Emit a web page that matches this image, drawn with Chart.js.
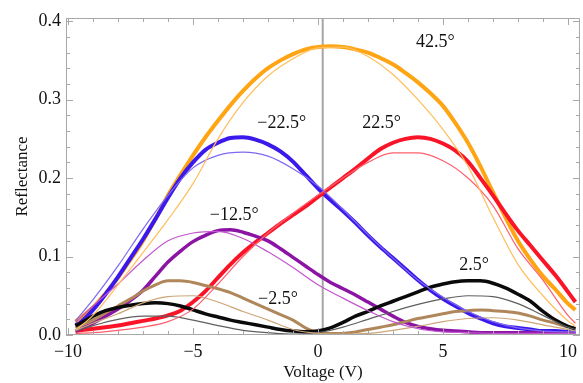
<!DOCTYPE html>
<html>
<head>
<meta charset="utf-8">
<script src="https://cdn.jsdelivr.net/npm/chart.js@4.4.0/dist/chart.umd.min.js"></script>
<style>
  html, body { margin: 0; padding: 0; background: #fff; }
  #wrap { width: 583px; height: 383px; }
</style>
</head>
<body>
<div id="wrap"><canvas id="myChart" width="583" height="383"></canvas></div>
<script>
// measured points (dots), voltage grid
const volts = [-9.7,-9.5,-9,-8.5,-8,-7.5,-7,-6.5,-6,-5.5,-5,-4.5,-4,-3.5,-3,-2.5,-2,-1.5,-1,-0.5,0,0.5,1,1.5,2,2.5,3,3.5,4,4.5,5,5.5,6,6.5,7,7.5,8,8.5,9,9.5,10,10.3];
const meas42 = [0.017,0.022,0.035,0.053,0.073,0.096,0.12,0.148,0.178,0.204,0.229,0.252,0.273,0.293,0.311,0.327,0.34,0.35,0.358,0.364,0.367,0.368,0.367,0.364,0.36,0.353,0.345,0.334,0.322,0.308,0.292,0.27,0.245,0.215,0.182,0.15,0.12,0.096,0.075,0.058,0.04,0.032];
const measM22 = [0.012,0.016,0.032,0.052,0.074,0.098,0.122,0.148,0.175,0.2,0.22,0.236,0.245,0.251,0.252,0.249,0.243,0.234,0.221,0.204,0.187,0.172,0.158,0.143,0.127,0.112,0.098,0.084,0.07,0.057,0.046,0.037,0.028,0.021,0.015,0.011,0.009,0.007,0.005,0.005,0.004,0.004];
const meas22 = [0.005,0.006,0.008,0.01,0.012,0.015,0.018,0.021,0.025,0.031,0.042,0.056,0.073,0.09,0.105,0.118,0.13,0.142,0.153,0.164,0.176,0.188,0.2,0.212,0.225,0.237,0.245,0.25,0.252,0.25,0.244,0.235,0.221,0.2,0.178,0.155,0.133,0.114,0.095,0.076,0.055,0.042];
const measM12 = [0.005,0.008,0.015,0.024,0.033,0.044,0.057,0.075,0.093,0.107,0.119,0.127,0.133,0.134,0.131,0.126,0.12,0.11,0.099,0.088,0.077,0.067,0.059,0.051,0.042,0.033,0.024,0.016,0.011,0.008,0.006,0.005,0.004,0.003,0.003,0.003,0.003,0.003,0.003,0.003,0.003,0.003];
const measM2 = [0.009,0.012,0.019,0.028,0.037,0.046,0.056,0.064,0.069,0.069,0.067,0.063,0.059,0.054,0.047,0.04,0.033,0.026,0.019,0.009,0.003,0.002,0.002,0.004,0.007,0.01,0.013,0.017,0.021,0.024,0.027,0.03,0.031,0.032,0.031,0.03,0.028,0.024,0.019,0.015,0.01,0.008];
const meas2 = [0.012,0.015,0.024,0.031,0.035,0.038,0.04,0.041,0.04,0.037,0.032,0.027,0.023,0.019,0.016,0.013,0.01,0.007,0.005,0.004,0.005,0.009,0.016,0.024,0.03,0.037,0.043,0.049,0.055,0.061,0.065,0.068,0.069,0.069,0.066,0.06,0.052,0.043,0.03,0.019,0.011,0.008];

// fitted curves
const fitVolts = [-9.7,-9,-8,-7,-6,-5,-4,-3,-2,-1,0,1,2,3,4,5,6,7,8,9,10,10.3];
const fit42 = [0.006,0.025,0.064,0.105,0.147,0.193,0.25,0.296,0.33,0.352,0.366,0.367,0.355,0.332,0.3,0.262,0.215,0.15,0.09,0.05,0.018,0.011];
const fitM22 = [0.018,0.045,0.088,0.135,0.178,0.213,0.229,0.233,0.228,0.212,0.19,0.16,0.128,0.098,0.07,0.048,0.03,0.017,0.009,0.005,0.004,0.004];
const fit22 = [0.002,0.003,0.006,0.01,0.017,0.033,0.065,0.1,0.13,0.155,0.178,0.2,0.22,0.232,0.232,0.222,0.2,0.165,0.11,0.07,0.025,0.015];
const fitM12 = [0.016,0.037,0.065,0.095,0.12,0.13,0.132,0.123,0.106,0.086,0.064,0.047,0.031,0.017,0.008,0.004,0.003,0.002,0.002,0.002,0.002,0.002];
const fitM2 = [0.006,0.015,0.027,0.041,0.049,0.05,0.042,0.03,0.019,0.007,0.002,0.001,0.002,0.006,0.011,0.017,0.021,0.022,0.019,0.013,0.007,0.005];
const fit2 = [0.005,0.012,0.02,0.024,0.024,0.019,0.012,0.006,0.003,0.001,0.003,0.01,0.02,0.03,0.039,0.046,0.05,0.049,0.04,0.025,0.01,0.007];

// zero-voltage marker line
const zeroX = 0.19;

// angle labels
const angleText = ['42.5°','−22.5°','22.5°','−12.5°','−2.5°','2.5°'];
const angleX = [4.7,-1.45,2.55,-3.35,-1.6,6.25];
const angleY = [0.373,0.27,0.27,0.153,0.046,0.089];

const xTicks = [-10,-5,0,5,10];
const xTickLabels = ['−10','−5','0','5','10'];
const yTicks = [0,0.1,0.2,0.3,0.4];
const yTickLabels = ['0.0','0.1','0.2','0.3','0.4'];

const serif = "'Liberation Serif', 'Times New Roman', serif";

function pts(xs, ys){ return xs.map((x,i)=>({x:x, y:ys[i]})); }

function fitSet(ys, color){
  return { data: pts(fitVolts, ys), borderColor: color, borderWidth: 1.2, pointRadius: 0,
           cubicInterpolationMode: 'monotone', fill: false };
}
function measSet(ys, color, w){
  return { data: pts(volts, ys), borderColor: color, borderWidth: w, pointRadius: 0,
           cubicInterpolationMode: 'monotone', fill: false };
}

const framePlugin = {
  id: 'frame',
  afterDatasetsDraw(chart){
    const c = chart.ctx;
    const xs = chart.scales.x, ys = chart.scales.y;
    c.save();
    c.font = "18px " + serif;
    c.fillStyle = '#111';
    c.textAlign = 'center';
    c.textBaseline = 'middle';
    angleText.forEach((t,i)=>{
      c.fillText(t, xs.getPixelForValue(angleX[i]), ys.getPixelForValue(angleY[i]));
    });
    c.restore();
  },
  afterDraw(chart){
    const c = chart.ctx, a = chart.chartArea;
    const xs = chart.scales.x, ys = chart.scales.y;
    c.save();
    c.strokeStyle = '#a8a8a8';
    c.lineWidth = 1;
    c.strokeRect(a.left+0.5, a.top+0.5, a.right-a.left-1, a.bottom-a.top-1);
    c.beginPath();
    for (let v=-10; v<=10; v++){
      const px = Math.round(xs.getPixelForValue(v))+0.5;
      const len = (v%5===0) ? 7 : 4;
      c.moveTo(px, a.bottom); c.lineTo(px, a.bottom-len);
      c.moveTo(px, a.top); c.lineTo(px, a.top+len);
    }
    for (let k=0; k<=20; k++){
      const v = k*0.02;
      const py = Math.round(ys.getPixelForValue(v))+0.5;
      const len = (k%5===0) ? 7 : 4;
      c.moveTo(a.left, py); c.lineTo(a.left+len, py);
      c.moveTo(a.right, py); c.lineTo(a.right-len, py);
    }
    c.stroke();
    c.restore();
  }
};

const ctx = document.getElementById('myChart').getContext('2d');
const myChart = new Chart(ctx, {
  type: 'line',
  data: {
    datasets: [
      fitSet(fit42, 'rgb(255,190,90)'),
      fitSet(fitM22, 'rgb(125,105,245)'),
      fitSet(fit22, 'rgb(255,95,110)'),
      fitSet(fitM12, 'rgb(195,85,205)'),
      fitSet(fitM2, 'rgb(205,165,120)'),
      fitSet(fit2, 'rgb(95,95,95)'),
      measSet(meas2, 'rgb(10,10,10)', 3.5),
      measSet(measM2, 'rgb(175,135,90)', 3),
      measSet(measM12, 'rgb(140,20,165)', 3.5),
      measSet(meas22, 'rgb(250,20,40)', 4),
      measSet(measM22, 'rgb(60,25,235)', 4),
      measSet(meas42, 'rgb(255,165,20)', 4),
      { data: [{x:zeroX, y:0}, {x:zeroX, y:0.404}], borderColor: 'rgb(165,165,165)',
        borderWidth: 2, pointRadius: 0 }
    ]
  },
  options: {
    responsive: false,
    animation: false,
    layout: { padding: { top: 18, right: 3, left: 0, bottom: 0 } },
    plugins: { legend: { display: false }, tooltip: { enabled: false } },
    scales: {
      x: {
        type: 'linear', min: -10.08, max: 10.48,
        afterBuildTicks(s){ s.ticks = xTicks.map(v=>({value:v})); },
        afterFit(s){ s.height = 48; },
        grid: { display: false, drawTicks: false },
        border: { display: false },
        ticks: { font: { family: serif, size: 18 }, color: '#111', padding: 6, maxRotation: 0,
                 callback: (v)=> xTickLabels[xTicks.indexOf(v)] },
        title: { display: true, text: 'Voltage (V)', font: { family: serif, size: 17 }, color: '#111',
                 padding: { top: 0, bottom: 0 } }
      },
      y: {
        type: 'linear', min: 0, max: 0.404,
        afterBuildTicks(s){ s.ticks = yTicks.map(v=>({value:v})); },
        afterFit(s){ s.width = 66; },
        grid: { display: false, drawTicks: false },
        border: { display: false },
        ticks: { font: { family: serif, size: 18 }, color: '#111', padding: 5,
                 callback: (v)=> yTickLabels[yTicks.indexOf(v)] },
        title: { display: true, text: 'Reflectance', font: { family: serif, size: 17 }, color: '#111',
                 padding: { top: 12, bottom: 0 } }
      }
    }
  },
  plugins: [framePlugin]
});
</script>
</body>
</html>
